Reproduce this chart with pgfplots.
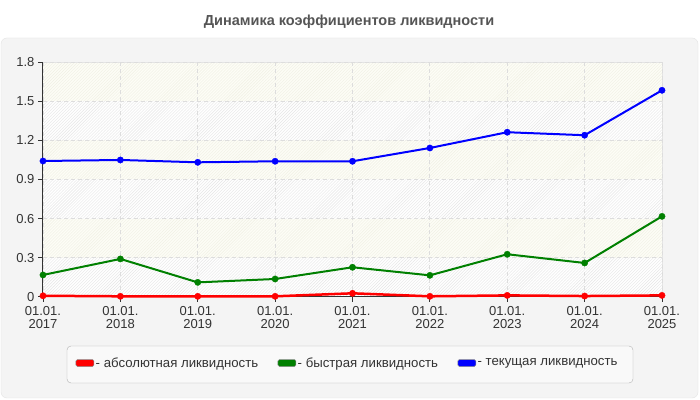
\documentclass[border=0pt]{standalone}
\usepackage{fontspec}
\setmainfont{Liberation Sans}
\usepackage{pgfplots}
\pgfplotsset{compat=1.18}
\usetikzlibrary{patterns}

\definecolor{panelbg}{HTML}{F4F4F4}
\definecolor{panelline}{HTML}{E4E4E4}
\definecolor{titlegray}{HTML}{555555}
\definecolor{bandyel}{HTML}{FDFDF6}
\definecolor{hatchyel}{HTML}{F0F0E4}
\definecolor{hatchgray}{HTML}{E6E6E6}
\definecolor{gridgray}{HTML}{DDDDDD}
\definecolor{axisdark}{HTML}{333333}
\definecolor{lgdline}{HTML}{B0B0B0}
\definecolor{lgdbg}{HTML}{F9F9F9}
\definecolor{cred}{HTML}{FF0000}
\definecolor{cgreen}{HTML}{008000}
\definecolor{cblue}{HTML}{0000FF}

\begin{document}
\begin{tikzpicture}
\useasboundingbox (0bp,0bp) rectangle (700bp,400bp);
\fill[white] (0bp,0bp) rectangle (700bp,400bp);
\draw[panelline,fill=panelbg,rounded corners=6bp] (1bp,2bp) rectangle (698bp,362bp);
\node[font=\fontsize{14.5bp}{16bp}\selectfont\bfseries,text=titlegray] at (349bp,378.5bp) {Динамика коэффициентов ликвидности};
\draw[lgdline,fill=lgdbg,rounded corners=4bp] (67bp,17bp) rectangle (633bp,54bp);
% plot area background: alternating hatched bands (0.3 units = 39.07bp each)
\fill[bandyel] (43bp,103.3bp) rectangle (662bp,337.7bp);
\fill[pattern=north east lines, pattern color=hatchyel] (43bp,103.3bp) rectangle (662bp,337.7bp);
\foreach \b in {0,2,4}{
  \fill[white] (43bp,{103.3bp+\b*39.07bp}) rectangle (662bp,{103.3bp+(\b+1)*39.07bp});
  \fill[pattern=north east lines, pattern color=hatchgray] (43bp,{103.3bp+\b*39.07bp}) rectangle (662bp,{103.3bp+(\b+1)*39.07bp});
}
\draw[panelline, line width=0.8bp] (43bp,337.7bp) -- (662bp,337.7bp) -- (662bp,103.3bp);

\begin{axis}[
    at={(43bp,103.3bp)}, anchor=south west,
    scale only axis,
    width=619bp, height=234.4bp,
    xmin=0, xmax=8, ymin=0, ymax=1.8,
    clip=false,
    axis lines*=left,
    axis line style={-, color=axisdark, line width=1bp},
    xtick={0,1,2,3,4,5,6,7,8},
    xticklabels={{01.01.\\2017},{01.01.\\2018},{01.01.\\2019},{01.01.\\2020},{01.01.\\2021},{01.01.\\2022},{01.01.\\2023},{01.01.\\2024},{01.01.\\2025}},
    xticklabel style={align=center, font=\fontsize{13bp}{13bp}\selectfont, text=axisdark, yshift=-1.5bp},
    ytick={0,0.3,0.6,0.9,1.2,1.5,1.8},
    yticklabel style={font=\fontsize{13bp}{14bp}\selectfont, text=axisdark},
    /pgf/number format/fixed,
    /pgf/number format/assume math mode=true,
    tick align=outside,
    major tick length=5bp,
    tick style={color=axisdark, line width=0.8bp},
    grid=major,
    major grid style={color=gridgray, dash pattern=on 4bp off 3bp, line width=0.8bp},
    legend columns=3,
    legend style={draw=none, fill=none, inner sep=0pt,
        at={(0.0525,-0.283)}, anchor=west,
        font=\fontsize{13.2bp}{15bp}\selectfont, text=axisdark,
        nodes={inner xsep=1.5bp, inner ysep=0pt},
        /tikz/every even column/.append style={column sep=18bp}},
    legend image code/.code={\draw[draw=black!45, fill, line width=0.5bp, rounded corners=1.5bp] (0bp,-3.5bp) rectangle (18bp,3.5bp);},
]
\addplot[color=cred, line width=2.5bp, mark=*, mark size=3.2bp, mark options={solid, line width=0.3bp}]
    coordinates {(0,0.007)(1,0.003)(2,0.003)(3,0.003)(4,0.026)(5,0.003)(6,0.010)(7,0.005)(8,0.010)};
\addlegendentry{- абсолютная ликвидность}

\addplot[color=cgreen, line width=2bp, mark=*, mark size=3.2bp, mark options={solid, line width=0.3bp}]
    coordinates {(0,0.167)(1,0.290)(2,0.110)(3,0.136)(4,0.226)(5,0.164)(6,0.326)(7,0.259)(8,0.617)};
\addlegendentry{- быстрая ликвидность}

\addplot[color=cblue, line width=2bp, mark=*, mark size=3.2bp, mark options={solid, line width=0.3bp}]
    coordinates {(0,1.042)(1,1.050)(2,1.032)(3,1.040)(4,1.040)(5,1.142)(6,1.263)(7,1.240)(8,1.585)};
\addlegendentry{- текущая ликвидность}
\end{axis}
\end{tikzpicture}
\end{document}
